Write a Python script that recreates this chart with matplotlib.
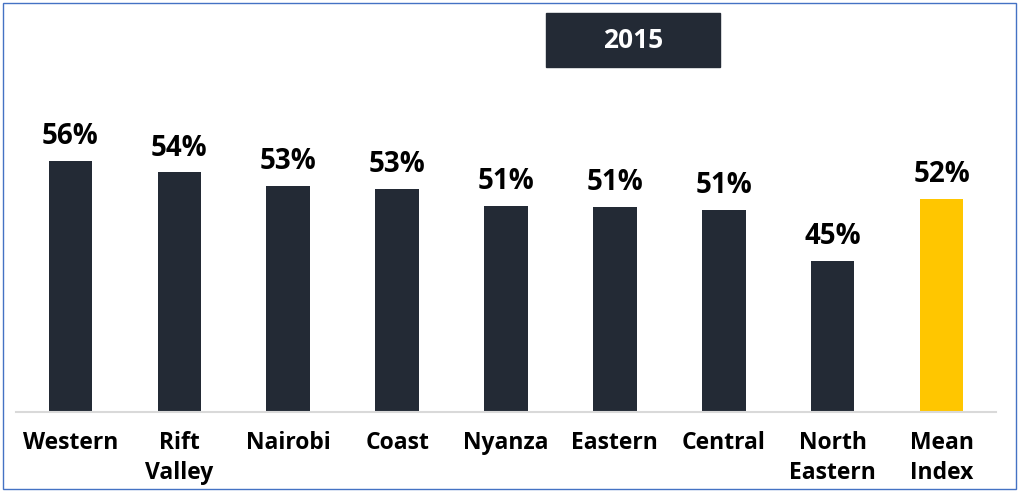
import matplotlib.pyplot as plt
from matplotlib.patches import Rectangle

regions = ["Western", "Rift\nValley", "Nairobi", "Coast", "Nyanza",
           "Eastern", "Central", "North\nEastern", "Mean\nIndex"]
index_2015 = [55.6, 54.4, 53.0, 52.7, 51.0, 50.9, 50.6, 45.4, 51.7]
year = "2015"

dark = "#232a35"
gold = "#ffc600"

plt.rcParams['font.family'] = ['Open Sans', 'DejaVu Sans']


def main():
    W, H = 1019, 492
    fig = plt.figure(figsize=(W / 100, H / 100), dpi=100)
    ax = fig.add_axes([16 / W, 80 / H, 980 / W, 322 / H])

    colors = [dark] * (len(regions) - 1) + [gold]
    x = range(len(regions))
    bars = ax.bar(x, index_2015, width=0.4, color=colors, zorder=2)
    for b, v in zip(bars, index_2015):
        ax.annotate(f"{v:.0f}%", (b.get_x() + b.get_width() / 2, v),
                    xytext=(0, 7), textcoords='offset points',
                    ha='center', va='bottom', fontsize=20, fontweight='bold',
                    color='black')

    ax.set_xlim(-0.5, len(regions) - 0.5)
    ax.set_ylim(30, 62.8)
    ax.set_xticks(list(x))
    ax.set_xticklabels(regions, fontsize=16.5, fontweight='bold', linespacing=1.3)
    ax.tick_params(axis='x', length=0, pad=14)
    ax.set_yticks([])
    for s in ['top', 'right', 'left']:
        ax.spines[s].set_visible(False)
    ax.spines['bottom'].set_color('#d9d9d9')
    ax.spines['bottom'].set_linewidth(1.5)

    # year box
    fig.patches.append(Rectangle((546 / W, 1 - 67 / H), 174 / W, 54 / H,
                                 transform=fig.transFigure, color=dark))
    fig.text(633 / W, 1 - 41 / H, year, ha='center', va='center',
             color='white', fontsize=19, fontweight='bold')

    # outer border
    fig.patches.append(Rectangle((3 / W, 3 / H), 1013 / W, 486 / H,
                                 transform=fig.transFigure, fill=False,
                                 edgecolor='#4472c4', linewidth=1))

    fig.savefig('out.png', dpi=100)


if __name__ == '__main__':
    main()
